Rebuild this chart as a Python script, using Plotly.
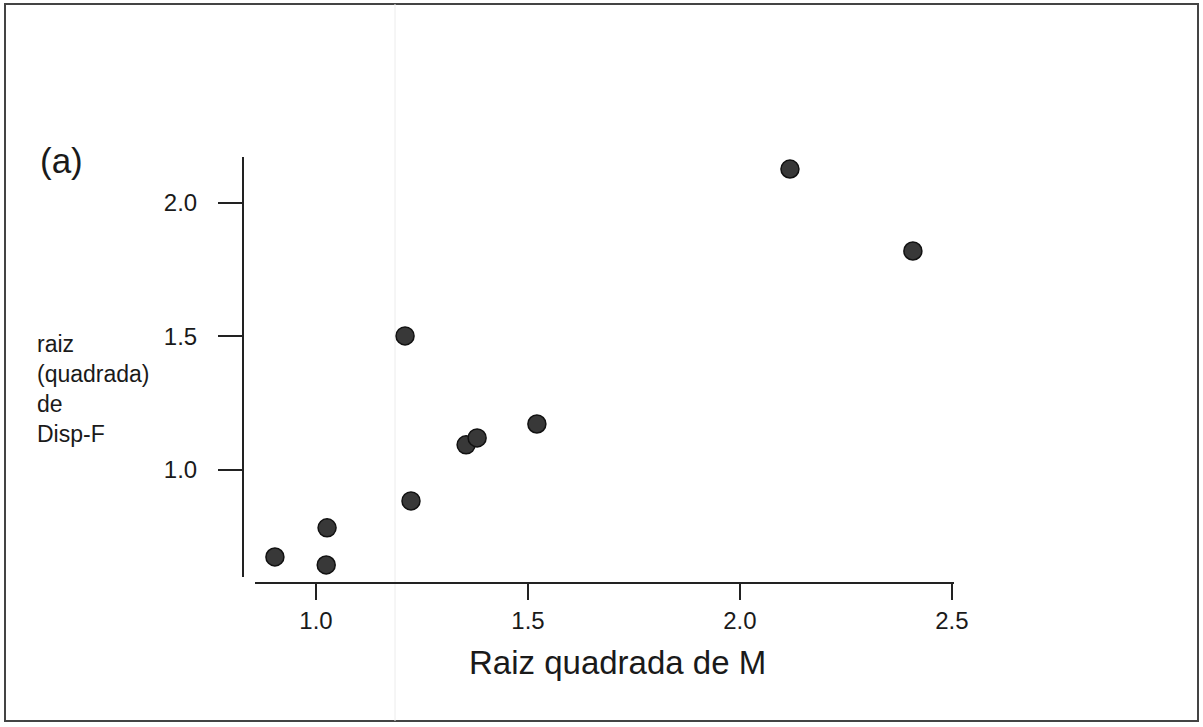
import plotly.graph_objects as go

# Square-root transformed data
raiz_m = [0.903, 1.026, 1.024, 1.224, 1.210, 1.354, 1.380, 1.521, 2.118, 2.408]
raiz_disp_f = [0.674, 0.783, 0.644, 0.884, 1.502, 1.094, 1.120, 1.172, 2.127, 1.820]

x_ticks = [1.0, 1.5, 2.0, 2.5]
y_ticks = [1.0, 1.5, 2.0]

W, H = 1203, 727
FONT = "Liberation Sans, Arial, sans-serif"


def px_x(p):
    return p / W


def px_y(p):
    return 1 - p / H


fig = go.Figure()
fig.add_trace(go.Scatter(
    x=raiz_m, y=raiz_disp_f, mode="markers",
    marker=dict(size=18, color="#383838", line=dict(color="#111111", width=1.5)),
    showlegend=False, hoverinfo="x+y",
))

fig.update_layout(
    width=W, height=H,
    margin=dict(l=0, r=0, t=0, b=0),
    paper_bgcolor="white", plot_bgcolor="white",
    font=dict(family=FONT, color="#1a1a1a"),
    xaxis=dict(
        domain=[px_x(255), px_x(954)], range=[0.856, 2.505],
        anchor="free", position=px_y(583),
        showline=True, linecolor="#222222", linewidth=2,
        ticks="outside", ticklen=16, tickwidth=2, tickcolor="#222222",
        tickvals=x_ticks, ticktext=[f"{v:.1f}" for v in x_ticks],
        tickfont=dict(size=24, family=FONT), ticklabelstandoff=0,
        showgrid=False, zeroline=False, automargin=False,
    ),
    yaxis=dict(
        domain=[px_y(577), px_y(157)], range=[0.599, 2.172],
        anchor="free", position=px_x(243),
        showline=True, linecolor="#222222", linewidth=2,
        ticks="outside", ticklen=24, tickwidth=2, tickcolor="#222222",
        tickvals=y_ticks, ticktext=[f"{v:.1f}" for v in y_ticks],
        tickfont=dict(size=24, family=FONT), ticklabelstandoff=16,
        showgrid=False, zeroline=False, automargin=False,
    ),
    annotations=[
        dict(text="(a)", x=px_x(38), y=px_y(161), xref="paper", yref="paper",
             xanchor="left", yanchor="middle", showarrow=False,
             font=dict(size=35, family=FONT, color="#1a1a1a")),
        dict(text="raiz<br>(quadrada)<br>de<br>Disp-F", x=px_x(35), y=px_y(389),
             xref="paper", yref="paper", xanchor="left", yanchor="middle",
             align="left", showarrow=False,
             font=dict(size=23, family=FONT, color="#1a1a1a")),
        dict(text="Raiz quadrada de M", x=px_x(617), y=px_y(662),
             xref="paper", yref="paper", xanchor="center", yanchor="middle",
             showarrow=False, font=dict(size=33, family=FONT, color="#1a1a1a")),
    ],
    shapes=[
        # outer frame
        dict(type="rect", xref="paper", yref="paper",
             x0=px_x(5), x1=px_x(1198), y0=px_y(721), y1=px_y(4),
             line=dict(color="#444444", width=2), layer="below"),
        # faint crease line
        dict(type="line", xref="paper", yref="paper",
             x0=px_x(395), x1=px_x(395), y0=px_y(721), y1=px_y(4),
             line=dict(color="#ececec", width=1), layer="below"),
    ],
)

fig.write_html("out.html")
